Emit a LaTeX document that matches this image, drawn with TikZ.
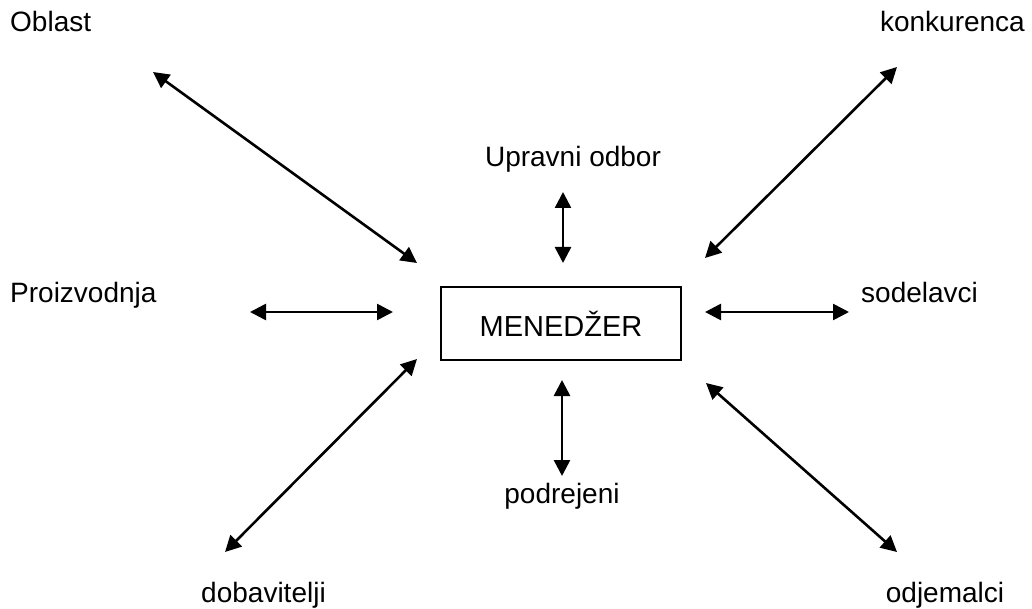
\documentclass[tikz,border=0pt]{standalone}
\usepackage{fontspec}
\setmainfont{Liberation Sans}
\usetikzlibrary{arrows.meta}
\begin{document}
\begin{tikzpicture}[x=1pt,y=-1pt,
  lbl/.style={inner sep=0pt,font=\fontsize{28}{34}\selectfont},
  biarrow/.style={line width=2.6pt,{Triangle[length=16pt,width=16pt]}-{Triangle[length=16pt,width=16pt]}},
  mgr/.style={draw,line width=1.4pt,minimum width=240pt,minimum height=73pt,inner sep=0pt,font=\fontsize{29}{34}\selectfont}]
\useasboundingbox (0,0) rectangle (1032,609);
% labels
\node[lbl,anchor=base west] (oblast) at (10,32) {Oblast};
\node[lbl,anchor=base east] (konk) at (1025,32) {konkurenca};
\node[lbl,anchor=base] (uprav) at (573,167) {Upravni odbor};
\node[lbl,anchor=base west] (proiz) at (10,302) {Proizvodnja};
\node[lbl,anchor=base west] (sodel) at (861,302) {sodelavci};
\node[lbl,anchor=base] (podr) at (562,503) {podrejeni};
\node[lbl,anchor=base] (dobav) at (263.5,602) {dobavitelji};
\node[lbl,anchor=base] (odjem) at (945,602) {odjemalci};
\node[mgr] (men) at (561,323.5) {MENEDŽER};
% arrow endpoints
\coordinate (a1) at (153,72);  \coordinate (a2) at (417,263);
\coordinate (b1) at (897,67);  \coordinate (b2) at (705,258);
\coordinate (c1) at (563,192); \coordinate (c2) at (563,263);
\coordinate (d1) at (250,312); \coordinate (d2) at (393,312);
\coordinate (e1) at (705,312); \coordinate (e2) at (849,312);
\coordinate (f1) at (417,359); \coordinate (f2) at (225,552);
\coordinate (g1) at (562,380); \coordinate (g2) at (562,476);
\coordinate (h1) at (706,383); \coordinate (h2) at (897,552);
\draw[biarrow] (a1) -- (a2);
\draw[biarrow] (b1) -- (b2);
\draw[biarrow] (c1) -- (c2);
\draw[biarrow] (d1) -- (d2);
\draw[biarrow] (e1) -- (e2);
\draw[biarrow] (f1) -- (f2);
\draw[biarrow] (g1) -- (g2);
\draw[biarrow] (h1) -- (h2);
\end{tikzpicture}
\end{document}
